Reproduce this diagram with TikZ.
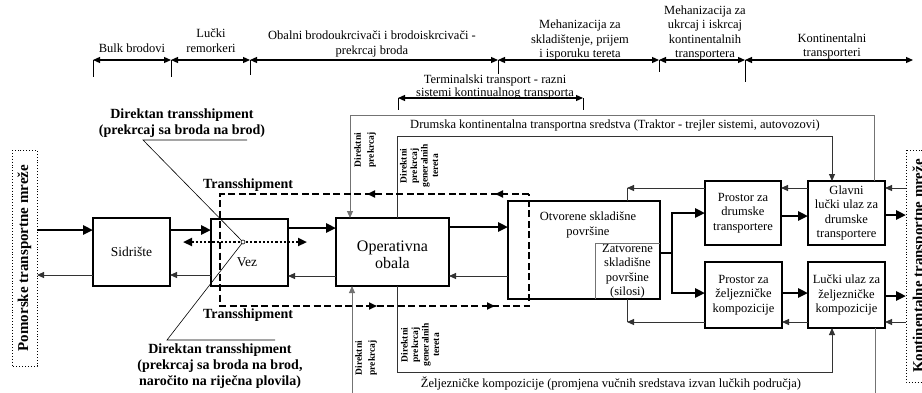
\documentclass[tikz,border=0pt]{standalone}
\usepackage{fontspec}
\setmainfont{Liberation Serif}
\usetikzlibrary{arrows.meta,decorations.markings}

\begin{document}
\begin{tikzpicture}[x=1pt,y=-1pt,
  every node/.style={inner sep=0pt, outer sep=0pt},
  txt/.style={font=\fontsize{12.5}{14.5}\selectfont, align=center},
  bigtxt/.style={font=\fontsize{13.5}{15}\selectfont, align=center},
  boldtxt/.style={font=\fontsize{14}{16}\selectfont\bfseries, align=center},
  vtwo/.style={font=\fontsize{9.5}{13}\selectfont\bfseries, align=center, rotate=90},
  vfour/.style={font=\fontsize{9.5}{10.5}\selectfont\bfseries, align=center, rotate=90},
  box/.style={draw, line width=2.2pt, fill=white, txt},
  thickarrow/.style={line width=2.8pt, -{Triangle[length=10pt,width=9pt]}},
  thickline/.style={line width=2.8pt},
  thinarrow/.style={line width=0.9pt, draw=black!80, -{Triangle[length=7pt,width=6pt]}},
  thinline/.style={line width=0.9pt, draw=black!80},
  loopline/.style={line width=0.9pt, draw=black!55},
  looparrow/.style={line width=0.9pt, draw=black!55, -{Triangle[length=7pt,width=6pt]}},
  leader/.style={line width=0.6pt},
  scalearr/.style={line width=1.2pt, {Triangle[length=7pt,width=6pt]}-{Triangle[length=7pt,width=6pt]}},
  tickmark/.style={line width=0.8pt},
  netbox/.style={draw, dotted, line width=0.9pt, rotate=90, font=\fontsize{15}{17}\selectfont\bfseries},
]
\path[use as bounding box] (0,0) rectangle (922,392);
\clip (0,0) rectangle (922,392);

% ---------- upper scale of equipment zones ----------
\coordinate (s1) at (93,60);
\coordinate (s2) at (171,60);
\coordinate (s3) at (250,60);
\coordinate (s4) at (498,60);
\coordinate (s5) at (659,60);
\coordinate (s6) at (745,60);
\coordinate (s7) at (913,60);
\draw[scalearr] (s1) -- (s2);
\draw[scalearr] (s2) -- (s3);
\draw[scalearr] (s3) -- (s4);
\draw[scalearr] (s4) -- (s5);
\draw[scalearr] (s5) -- (s6);
\draw[scalearr] (s6) -- (s7);
\draw[tickmark] (s1) -- ++(0,17);
\draw[tickmark] (s2) -- ++(0,17);
\draw[tickmark] (s3) -- ++(0,15);
\draw[tickmark] (s4) -- ++(0,14);
\draw[tickmark] (s5) -- ++(0,12);
\draw[tickmark] (s6) -- ++(0,22);

\node[txt] (lbulk) at (132,48) {Bulk brodovi};
\node[txt] (lrem) at (211,40.5) {Lučki\\remorkeri};
\node[txt] (lobal) at (372,44) {Obalni brodoukrcivači i brodoiskrcivači -\\prekrcaj broda};
\node[txt] (lmeh1) at (580,40) {Mehanizacija za\\skladištenje, prijem\\i isporuku tereta};
\node[txt] (lmeh2) at (705,33) {Mehanizacija za\\ukrcaj i iskrcaj\\kontinentalnih\\transportera};
\node[txt] (lkont) at (832,46.5) {Kontinentalni\\transporteri};

% terminal transport span
\coordinate (r1) at (398,98);
\coordinate (r2) at (583,98);
\draw[scalearr] (r1) -- (r2);
\draw[tickmark] (r1) -- ++(0,12);
\draw[tickmark] (r2) -- ++(0,12);
\node[txt, font=\fontsize{12.5}{12.5}\selectfont] (lterm) at (495,87) {Terminalski transport - razni\\sistemi kontinualnog transporta};

% ---------- transport networks ----------
\node[netbox, minimum width=216pt, minimum height=25pt] (lnet) at (24.5,258) {Pomorske transportne mreže};
\node[netbox, minimum width=232pt, minimum height=27pt] (rnet) at (919.5,266) {Kontinentalne transportne mreže};

% ---------- port elements ----------
\node[box, bigtxt, minimum width=77pt, minimum height=68pt] (sid) at (131.5,252) {Sidrište};
\node[box, minimum width=77pt, minimum height=67pt] (vez) at (249.5,252.5) {};
\node[bigtxt] (veztxt) at (247,262) {Vez};
\node[box, minimum width=113pt, minimum height=68pt] (op) at (392.5,252) {};
\node[font=\fontsize{16}{16.5}\selectfont, align=center] (optxt) at (392.5,255) {Operativna\\obala};
\node[box, minimum width=152pt, minimum height=98pt] (st) at (584,250) {};
\node[txt] (sttxt) at (588,225) {Otvorene skladišne\\površine};
\node[txt, minimum width=65pt, minimum height=56pt] (zat) at (627.5,271) {Zatvorene\\skladišne\\površine\\(silosi)};
\draw[loopline] (zat.south west) -- (zat.north west) -- (zat.north east);
\node[box, minimum width=76pt, minimum height=64pt] (pd) at (743,213) {Prostor za\\drumske\\transportere};
\node[box, minimum width=77pt, minimum height=64pt] (gd) at (846.5,213) {Glavni\\lučki ulaz za\\drumske\\transportere};
\node[box, minimum width=77pt, minimum height=66pt] (pz) at (743.5,295) {Prostor za\\željezničke\\kompozicije};
\node[box, minimum width=77pt, minimum height=66pt] (gz) at (846.5,295) {Lučki ulaz za\\željezničke\\kompozicije};

% ---------- main cargo flow (thick) ----------
\draw[thickarrow] (lnet.south |- 0,230) -- (sid.west |- 0,230);
\draw[thickarrow] (sid.east |- 0,230) -- (vez.west |- 0,230);
\draw[thickarrow] (vez.east |- 0,228) -- (op.west |- 0,228);
\draw[thickarrow] (op.east |- 0,227) -- (st.west |- 0,227);
\coordinate (br) at (672,253);
\draw[thickline] (st.east |- br) -- (br);
\draw[thickarrow] (br) -- (672,213) -- (pd.west |- 0,213);
\draw[thickarrow] (br) -- (672,293) -- (pz.west |- 0,293);
\draw[thickarrow] (pd.east |- 0,216) -- (gd.west |- 0,216);
\draw[thickarrow] (gd.east |- 0,215) -- (rnet.north |- 0,215);
\draw[thickarrow] (pz.east |- 0,293) -- (gz.west |- 0,293);
\draw[thickarrow] (gz.east |- 0,296) -- (rnet.north |- 0,296);

% ---------- return flow (thin) ----------
\draw[thinarrow] (rnet.north |- 0,188) -- (gd.east |- 0,188);
\draw[thinarrow] (gd.west |- 0,188) -- (pd.east |- 0,188);
\coordinate (cup) at (627,188);
\draw[thinarrow] (pd.west |- cup) -- (cup);
\draw[thinline] (cup) -- (st.north -| cup);
\draw[thinarrow] (rnet.north |- 0,322) -- (gz.east |- 0,322);
\draw[thinarrow] (gz.west |- 0,322) -- (pz.east |- 0,322);
\coordinate (cdn) at (627,322);
\draw[thinarrow] (pz.west |- cdn) -- (cdn);
\draw[thinline] (cdn) -- (st.south -| cdn);
\draw[thinarrow] (st.west |- 0,276) -- (op.east |- 0,276);
\draw[thinarrow] (op.west |- 0,276) -- (vez.east |- 0,276);
\draw[thinarrow] (vez.west |- 0,275) -- (sid.east |- 0,275);
\draw[thinarrow] (sid.west |- 0,275) -- (lnet.south |- 0,275);

% ---------- road vehicles loop ----------
\draw[looparrow] (gd.north -| 874,0) -- (874,115) -- (350,115) -- (op.north -| 350,0);
\draw[thinarrow] (op.north -| 397,0) -- (397,136) -- (832,136) -- (gd.north -| 832,0);
\node[txt] (ldrum) at (615,125) {Drumska kontinentalna transportna sredstva (Traktor - trejler sistemi, autovozovi)};
\node[vtwo] (dp1) at (365,150) {Direktni\\prekrcaj};
\node[vfour] (dpg1) at (419,166) {Direktni\\prekrcaj\\generalnih\\tereta};

% ---------- rail loop ----------
\draw[looparrow] (352,400) -- (op.south -| 352,0);
\draw[loopline] (gz.south -| 875,0) -- (875,400);
\draw[thinarrow] (op.south -| 397,0) -- (397,372) -- (832,372) -- (gz.south -| 832,0);
\node[txt] (lzelj) at (611,383) {Željezničke kompozicije (promjena vučnih sredstava izvan lučkih područja)};
\node[vtwo] (dp2) at (366,358) {Direktni\\prekrcaj};
\node[vfour] (dpg2) at (420,345) {Direktni\\prekrcaj\\generalnih\\tereta};

% ---------- transshipment zone ----------
\draw[line width=1.8pt, dash pattern=on 7pt off 3.5pt,
  postaction={decorate},
  decoration={markings,
    mark=at position 34pt with {\arrow[solid]{Triangle[length=8pt,width=7pt]}},
    mark=at position 162pt with {\arrow[solid]{Triangle[length=8pt,width=7pt]}},
    mark=at position 578pt with {\arrow[solid]{Triangle[length=8pt,width=7pt]}},
    mark=at position 696pt with {\arrow[solid]{Triangle[length=8pt,width=7pt]}}}]
  (529,194) -- (220,194) -- (220,306) -- (529,306) -- cycle;
\node[boldtxt] (ts1) at (248,185) {Transshipment};
\node[boldtxt] (ts2) at (248,315) {Transshipment};

% ---------- direct transshipment ----------
\coordinate (vx) at (243,242);
\draw[line width=2.2pt, dotted, {Triangle[length=9pt,width=8pt]}-{Triangle[length=9pt,width=8pt]}] (183,242) -- (307,242);
\coordinate (u1a) at (143,140);
\coordinate (u1b) at (247,140);
\coordinate (u2a) at (167,340);
\coordinate (u2b) at (275,340);
\draw[leader] (u1b) -- (u1a) -- (vx) -- (u2a) -- (u2b);
\draw[line width=0.6pt, fill=white] (vx) circle (2pt);
\node[boldtxt] (dt1) at (182,123) {Direktan transshipment\\(prekrcaj sa broda na brod)};
\node[boldtxt] (dt2) at (220,366) {Direktan transshipment\\(prekrcaj sa broda na brod,\\naročito na riječna plovila)};
\end{tikzpicture}
\end{document}
